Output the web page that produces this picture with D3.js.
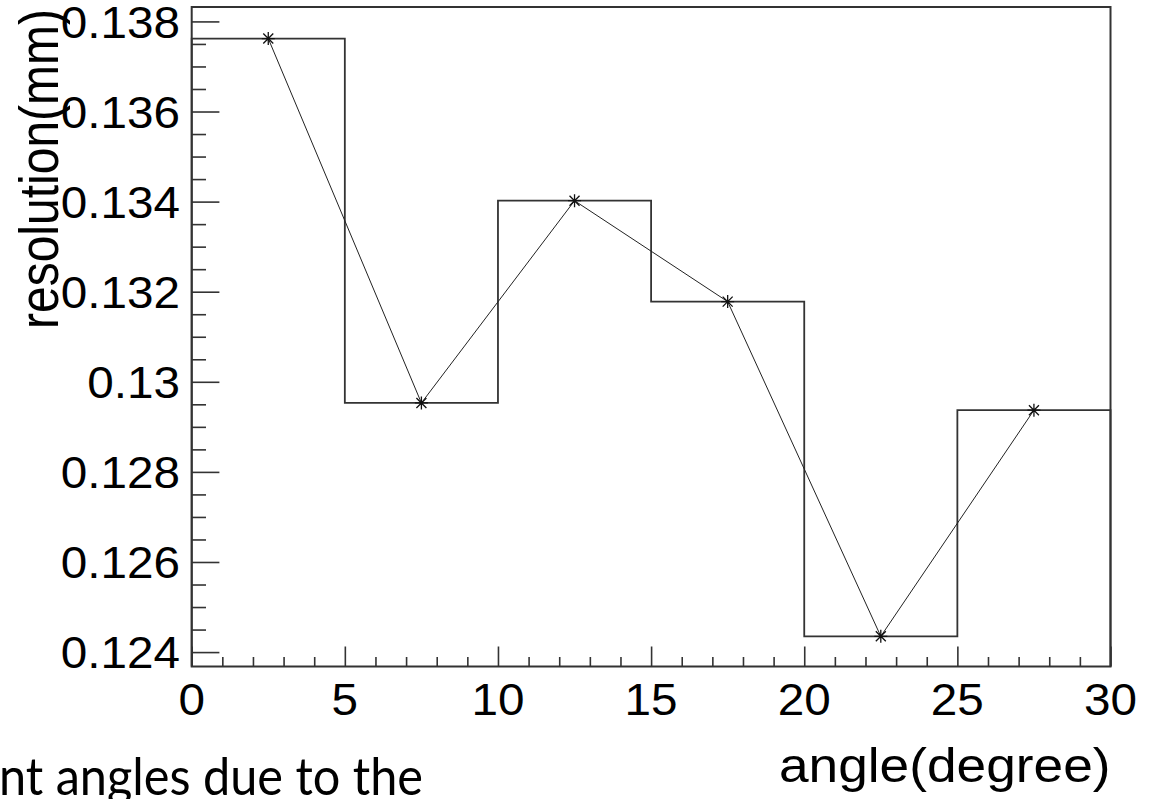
<!DOCTYPE html>
<html>
<head>
<meta charset="utf-8">
<script src="https://cdn.jsdelivr.net/npm/d3@7"></script>
<style>
  html, body { margin: 0; padding: 0; background: #fff; }
  svg { display: block; }
</style>
</head>
<body>
<svg id="chart" width="1168" height="799"></svg>
<script>
// Resolution measured per 5-degree angle bin
const binEdges = [0, 5, 10, 15, 20, 25, 30];
const angles = [2.5, 7.5, 12.5, 17.5, 22.5, 27.5];
const resolution = [0.13762, 0.12953, 0.13402, 0.13178, 0.12435, 0.12937];

const xMajorTicks = [0, 5, 10, 15, 20, 25, 30];
const xTickLabels = ["0", "5", "10", "15", "20", "25", "30"];
const yMajorTicks = [0.124, 0.126, 0.128, 0.130, 0.132, 0.134, 0.136, 0.138];
const yTickLabels = ["0.124", "0.126", "0.128", "0.13", "0.132", "0.134", "0.136", "0.138"];

const xTitle = "angle(degree)";
const yTitle = "resolution(mm)";
const captionText = "nt angles due to the";

const svg = d3.select("#chart");

const frame = { left: 191.7, right: 1110.5, top: 7, bottom: 666.5 };

const x = d3.scaleLinear().domain([0, 30]).range([frame.left, frame.right]);
const y = d3.scaleLinear().domain([0.12368, 0.13832]).range([frame.bottom, frame.top]);

const labelFont = "'Liberation Sans', Arial, Helvetica, sans-serif";

// Axes: ticks pointing into the frame, majors longer than minors
const xMinor = d3.range(0, 31, 1).filter(v => v % 5 !== 0);
const yMinor = d3.range(0, 29).map(i => +(0.1235 + i * 0.0005).toFixed(4))
  .filter(v => v > 0.12368 && v < 0.13832 && Math.round(v * 10000) % 20 !== 0);

const xAxisMajor = d3.axisTop(x).tickValues(xMajorTicks).tickSize(20).tickFormat("");
const xAxisMinor = d3.axisTop(x).tickValues(xMinor).tickSize(9.5).tickFormat("");
const yAxisMajor = d3.axisRight(y).tickValues(yMajorTicks).tickSize(27.7).tickFormat("");
const yAxisMinor = d3.axisRight(y).tickValues(yMinor).tickSize(14.3).tickFormat("");

function styleAxis(g) {
  g.select(".domain").remove();
  g.selectAll("line").attr("stroke", "#333").attr("stroke-width", 1.6);
}

svg.append("g").attr("transform", `translate(0,${frame.bottom})`).call(xAxisMajor).call(styleAxis);
svg.append("g").attr("transform", `translate(0,${frame.bottom})`).call(xAxisMinor).call(styleAxis);
svg.append("g").attr("transform", `translate(${frame.left},0)`).call(yAxisMajor).call(styleAxis);
svg.append("g").attr("transform", `translate(${frame.left},0)`).call(yAxisMinor).call(styleAxis);

// Frame
svg.append("rect")
  .attr("x", frame.left).attr("y", frame.top)
  .attr("width", frame.right - frame.left).attr("height", frame.bottom - frame.top)
  .attr("fill", "none").attr("stroke", "#333").attr("stroke-width", 2);

// Tick labels
svg.append("g").selectAll("text").data(xMajorTicks).join("text")
  .attr("transform", d => `translate(${x(d)},715) scale(1.06,1)`)
  .attr("text-anchor", "middle")
  .attr("font-family", labelFont).attr("font-size", 45).attr("fill", "#000")
  .text((d, i) => xTickLabels[i]);

svg.append("g").selectAll("text").data(yMajorTicks).join("text")
  .attr("transform", d => `translate(180,${y(d)}) scale(1.06,1)`)
  .attr("text-anchor", "end").attr("dy", "0.36em")
  .attr("font-family", labelFont).attr("font-size", 45).attr("fill", "#000")
  .text((d, i) => yTickLabels[i]);

// Axis titles, aligned to the far ends of the axes
svg.append("text")
  .attr("transform", `translate(${frame.right},782) scale(1.11,1)`)
  .attr("text-anchor", "end")
  .attr("font-family", labelFont).attr("font-size", 48).attr("fill", "#000")
  .text(xTitle);

svg.append("text")
  .attr("transform", `translate(58,${frame.top + 2}) scale(1.15,1) rotate(-90)`)
  .attr("text-anchor", "end")
  .attr("font-family", labelFont).attr("font-size", 48).attr("fill", "#000")
  .text(yTitle);

// Histogram outline (step per bin)
const hist = d3.path();
hist.moveTo(x(binEdges[0]), frame.bottom);
resolution.forEach((v, i) => {
  hist.lineTo(x(binEdges[i]), y(v));
  hist.lineTo(x(binEdges[i + 1]), y(v));
});
hist.lineTo(x(binEdges[binEdges.length - 1]), frame.bottom);
svg.append("path").attr("d", hist.toString())
  .attr("fill", "none").attr("stroke", "#333").attr("stroke-width", 1.8);

// Polyline through bin centres
const line = d3.line().x(d => x(d[0])).y(d => y(d[1]));
const pts = angles.map((a, i) => [a, resolution[i]]);
svg.append("path").attr("d", line(pts))
  .attr("fill", "none").attr("stroke", "#222").attr("stroke-width", 1);

// Asterisk markers
const r = 6.5, rd = 5;
const star = `M${-r},0H${r}M0,${-r}V${r}M${-rd},${-rd}L${rd},${rd}M${-rd},${rd}L${rd},${-rd}`;
svg.append("g").selectAll("path").data(pts).join("path")
  .attr("transform", d => `translate(${x(d[0])},${y(d[1])})`)
  .attr("d", star).attr("fill", "none").attr("stroke", "#111").attr("stroke-width", 1.3);

// Caption fragment along the bottom edge
svg.append("text")
  .attr("x", -1).attr("y", 795)
  .attr("font-family", "Lato, 'Open Sans', sans-serif").attr("font-size", 52).attr("fill", "#000")
  .attr("textLength", 424).attr("lengthAdjust", "spacingAndGlyphs")
  .text(captionText);
</script>
</body>
</html>
